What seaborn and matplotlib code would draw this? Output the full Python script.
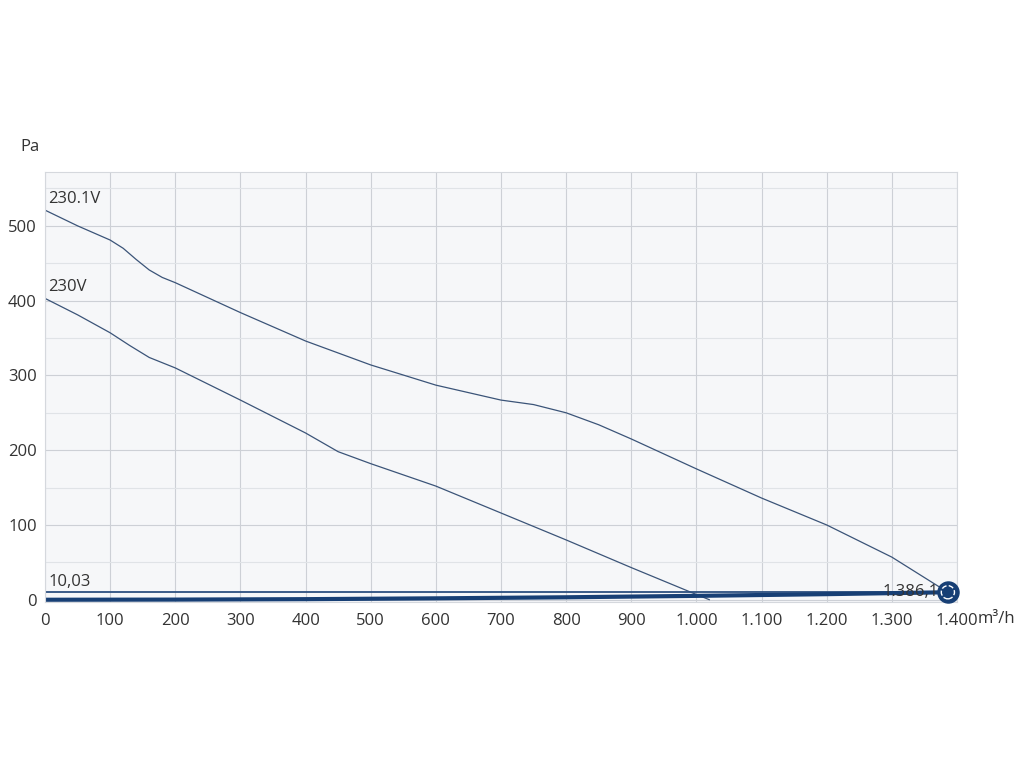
import numpy as np
import pandas as pd
import matplotlib
matplotlib.use("Agg")
import matplotlib.pyplot as plt
import seaborn as sns
from matplotlib.ticker import MultipleLocator, FuncFormatter

# ============================
# DATOS
# ============================
flow_hi = [0, 50, 100, 120, 140, 160, 180, 200, 300, 400, 500, 600, 700, 750, 800, 850, 900, 1000, 1100, 1200, 1300, 1386]
pres_hi = [521, 500, 481, 470, 455, 441, 431, 424, 384, 346, 314, 287, 267, 261, 250, 234, 215, 175, 136, 100, 57, 10]

flow_lo = [0, 50, 100, 130, 160, 200, 300, 400, 450, 500, 600, 700, 800, 900, 1000, 1020]
pres_lo = [403, 381, 357, 340, 324, 310, 267, 223, 198, 182, 152, 116, 80, 43, 7, 0]

flow_sys = [0, 200, 400, 600, 800, 1000, 1200, 1386]
pres_sys = [0, 0.2, 0.8, 1.9, 3.3, 5.2, 7.5, 10.03]

ref_level = 10.03
op_flow, op_pres = 1386, 10.03

x_ticks = list(range(0, 1500, 100))

# ============================
# CONFIGURACIÓN
# ============================
sns.set_theme(style="whitegrid")
plt.rcParams["font.family"] = ["Open Sans", "DejaVu Sans"]

line_col = "#3b5478"
thick_col = "#173f75"
text_col = "#333333"
fs = 12

fig = plt.figure(figsize=(10.24, 7.68), dpi=100)
ax = fig.add_axes([45 / 1024, 1 - 602 / 768, (957 - 45) / 1024, (602 - 172) / 768])
ax.set_facecolor("#f6f7f9")

df_hi = pd.DataFrame({"q": flow_hi, "p": pres_hi})
df_lo = pd.DataFrame({"q": flow_lo, "p": pres_lo})
df_sys = pd.DataFrame({"q": flow_sys, "p": pres_sys})

sns.lineplot(data=df_hi, x="q", y="p", ax=ax, color=line_col, linewidth=0.9)
sns.lineplot(data=df_lo, x="q", y="p", ax=ax, color=line_col, linewidth=0.9)
ax.axhline(ref_level, color="#2c4f80", linewidth=1.3)
sns.lineplot(data=df_sys, x="q", y="p", ax=ax, color=thick_col, linewidth=3.0)

# punto de trabajo
ax.scatter([op_flow], [op_pres], s=230, color=thick_col, zorder=5, clip_on=False)
ax.scatter([op_flow], [op_pres], s=90, facecolor="none", edgecolor="white",
           linewidth=1.0, linestyle="--", zorder=6, clip_on=False)
ax.text(op_flow, op_pres, "1.386,10", ha="right", va="center", fontsize=fs,
        color=text_col, zorder=4)

# etiquetas de curvas
ax.text(5, pres_hi[0] + 4, "230.1V", fontsize=fs, color=text_col, va="bottom")
ax.text(5, pres_lo[0] + 4, "230V", fontsize=fs, color=text_col, va="bottom")
ax.text(5, ref_level + 3, "10,03", fontsize=fs, color=text_col, va="bottom")

ax.set_xlim(0, 1400)
ax.set_ylim(-3, 572)
ax.set_xticks(x_ticks)
ax.xaxis.set_major_formatter(FuncFormatter(lambda v, p: f"{int(v):,}".replace(",", ".")))
ax.yaxis.set_major_locator(MultipleLocator(100))
ax.yaxis.set_minor_locator(MultipleLocator(50))
ax.grid(which="major", color="#cdd0d6", linewidth=0.8)
ax.grid(which="minor", axis="y", color="#e0e3e7", linewidth=0.8)
ax.tick_params(axis="both", labelsize=fs, labelcolor=text_col)
ax.tick_params(axis="y", which="major", length=4, color="#999999", pad=2)
ax.tick_params(axis="y", which="minor", length=0)
ax.tick_params(axis="x", length=0, pad=8)
ax.set_xlabel("")
ax.set_ylabel("")
for s in ax.spines.values():
    s.set_color("#d5d8dd")
    s.set_linewidth(0.8)

fig.text(978 / 1024, 1 - 619 / 768, "m³/h", fontsize=fs, color=text_col, va="center")
fig.text(20 / 1024, 1 - 147 / 768, "Pa", fontsize=fs, color=text_col, va="center")

fig.savefig("out.png", dpi=100, facecolor="white")
